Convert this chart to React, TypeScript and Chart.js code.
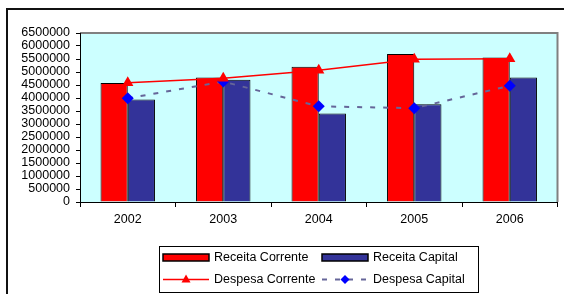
import React, { useEffect, useRef } from "react";
import { Chart, registerables } from "chart.js";

Chart.register(...registerables);

const years = ["2002", "2003", "2004", "2005", "2006"];
const receitaCorrente = [4580000, 4790000, 5200000, 5690000, 5560000];
const receitaCapital = [3940000, 4700000, 3400000, 3760000, 4790000];
const despesaCorrente = [4590000, 4760000, 5070000, 5490000, 5510000];
const despesaCapital = [3990000, 4630000, 3680000, 3610000, 4470000];
const yMax = 6500000;
const yStep = 500000;

const FONT = "'Liberation Sans', Arial, sans-serif";

const framePlugin = {
  id: "framePlugin",
  beforeDraw(chart: any) {
    const { ctx, chartArea } = chart;
    ctx.save();
    ctx.fillStyle = "#CCFFFF";
    ctx.fillRect(chartArea.left, chartArea.top, chartArea.right - chartArea.left, chartArea.bottom - chartArea.top);
    ctx.strokeStyle = "#808080";
    ctx.lineWidth = 2;
    ctx.beginPath();
    ctx.moveTo(chartArea.left, chartArea.top);
    ctx.lineTo(chartArea.right, chartArea.top);
    ctx.lineTo(chartArea.right, chartArea.bottom);
    ctx.stroke();
    // outer frame
    ctx.strokeStyle = "#111";
    ctx.lineWidth = 2;
    ctx.beginPath();
    ctx.moveTo(7, 300);
    ctx.lineTo(7, 9);
    ctx.lineTo(570, 9);
    ctx.stroke();
    ctx.restore();
  },
  afterDraw(chart: any) {
    const { ctx } = chart;
    const ds = chart.data.datasets;
    ctx.save();
    ctx.strokeStyle = "#000";
    ctx.lineWidth = 1;
    ctx.strokeRect(159.5, 246.5, 319, 46);
    ctx.font = `12.5px ${FONT}`;
    ctx.textBaseline = "middle";
    ctx.fillStyle = "#000";
    const cols = [163, 322];
    const rows = [257.5, 279.5];
    const items = [
      { ds: ds[2], col: 0, row: 0, kind: "bar" },
      { ds: ds[3], col: 1, row: 0, kind: "bar" },
      { ds: ds[0], col: 0, row: 1, kind: "line" },
      { ds: ds[1], col: 1, row: 1, kind: "line" },
    ];
    for (const it of items) {
      const x = cols[it.col];
      const y = rows[it.row];
      const d: any = it.ds;
      if (it.kind === "bar") {
        ctx.fillStyle = d.backgroundColor;
        ctx.fillRect(x, y - 3.5, 46, 7);
        ctx.strokeStyle = "#000";
        ctx.lineWidth = 1.5;
        ctx.strokeRect(x, y - 3.5, 46, 7);
      } else {
        ctx.strokeStyle = d.borderColor;
        ctx.lineWidth = d.borderWidth;
        ctx.setLineDash(d.borderDash || []);
        ctx.beginPath();
        ctx.moveTo(x, y);
        ctx.lineTo(x + 46, y);
        ctx.stroke();
        ctx.setLineDash([]);
        const cx = x + 23;
        ctx.fillStyle = d.pointBackgroundColor;
        ctx.beginPath();
        if (d.pointStyle === "triangle") {
          ctx.moveTo(cx, y - 5);
          ctx.lineTo(cx + 4.5, y + 3);
          ctx.lineTo(cx - 4.5, y + 3);
        } else {
          ctx.moveTo(cx, y - 4.5);
          ctx.lineTo(cx + 4.5, y);
          ctx.lineTo(cx, y + 4.5);
          ctx.lineTo(cx - 4.5, y);
        }
        ctx.closePath();
        ctx.fill();
      }
      ctx.fillStyle = "#000";
      ctx.fillText(d.label, x + 51, y + 0.5);
    }
    ctx.restore();
  },
};

export default function App() {
  const ref = useRef<HTMLCanvasElement>(null);
  useEffect(() => {
    if (!ref.current) return;
    const chart = new Chart(ref.current, {
      type: "bar",
      data: {
        labels: years,
        datasets: [
          {
            type: "line",
            label: "Despesa Corrente",
            data: despesaCorrente,
            borderColor: "#FF0000",
            borderWidth: 1.5,
            pointStyle: "triangle",
            pointRadius: 6.5,
            pointBackgroundColor: "#FF0000",
            pointBorderColor: "#FF0000",
            pointBorderWidth: 0,
            tension: 0,
            fill: false,
            order: 0,
          } as any,
          {
            type: "line",
            label: "Despesa Capital",
            data: despesaCapital,
            borderColor: "#666699",
            borderWidth: 2,
            borderDash: [5, 8],
            pointStyle: "rectRot",
            pointRadius: 6,
            pointBackgroundColor: "#0000FF",
            pointBorderColor: "#0000FF",
            pointBorderWidth: 0,
            tension: 0,
            fill: false,
            order: 0,
          } as any,
          {
            label: "Receita Corrente",
            data: receitaCorrente,
            backgroundColor: "#FF0000",
            borderColor: "#000000",
            borderWidth: 1,
            categoryPercentage: 0.57,
            barPercentage: 1,
            order: 1,
          },
          {
            label: "Receita Capital",
            data: receitaCapital,
            backgroundColor: "#333399",
            borderColor: "#000000",
            borderWidth: 1,
            categoryPercentage: 0.57,
            barPercentage: 1,
            order: 1,
          },
        ],
      },
      options: {
        responsive: false,
        animation: false,
        devicePixelRatio: 1,
        layout: { padding: { top: 33, right: 4, left: 0, bottom: 0 } },
        plugins: { legend: { display: false }, tooltip: { enabled: false } },
        scales: {
          x: {
            offset: true,
            grid: {
              display: true,
              offset: true,
              drawOnChartArea: false,
              drawTicks: true,
              tickLength: 5,
              color: "#000",
            },
            border: { display: true, color: "#000", width: 1 },
            ticks: {
              color: "#000",
              font: { family: FONT, size: 12.5 },
              padding: 5,
              maxRotation: 0,
              autoSkip: false,
            },
            afterFit(scale: any) {
              scale.height = 92;
            },
          },
          y: {
            min: 0,
            max: yMax,
            grid: {
              display: true,
              drawOnChartArea: false,
              drawTicks: true,
              tickLength: 4,
              color: "#000",
            },
            border: { display: true, color: "#000", width: 1 },
            ticks: {
              stepSize: yStep,
              autoSkip: false,
              color: "#000",
              padding: 6,
              font: { family: FONT, size: 12.5, lineHeight: 1 },
              callback: (v: any) => String(v),
            },
            afterFit(scale: any) {
              scale.width = 80;
            },
          },
        },
      },
      plugins: [framePlugin],
    });
    return () => chart.destroy();
  }, []);
  return (
    <div style={{ position: "absolute", left: 0, top: 0, width: 564, height: 294, background: "#fff" }}>
      <canvas ref={ref} width={564} height={294} style={{ display: "block", width: 564, height: 294 }} />
    </div>
  );
}
